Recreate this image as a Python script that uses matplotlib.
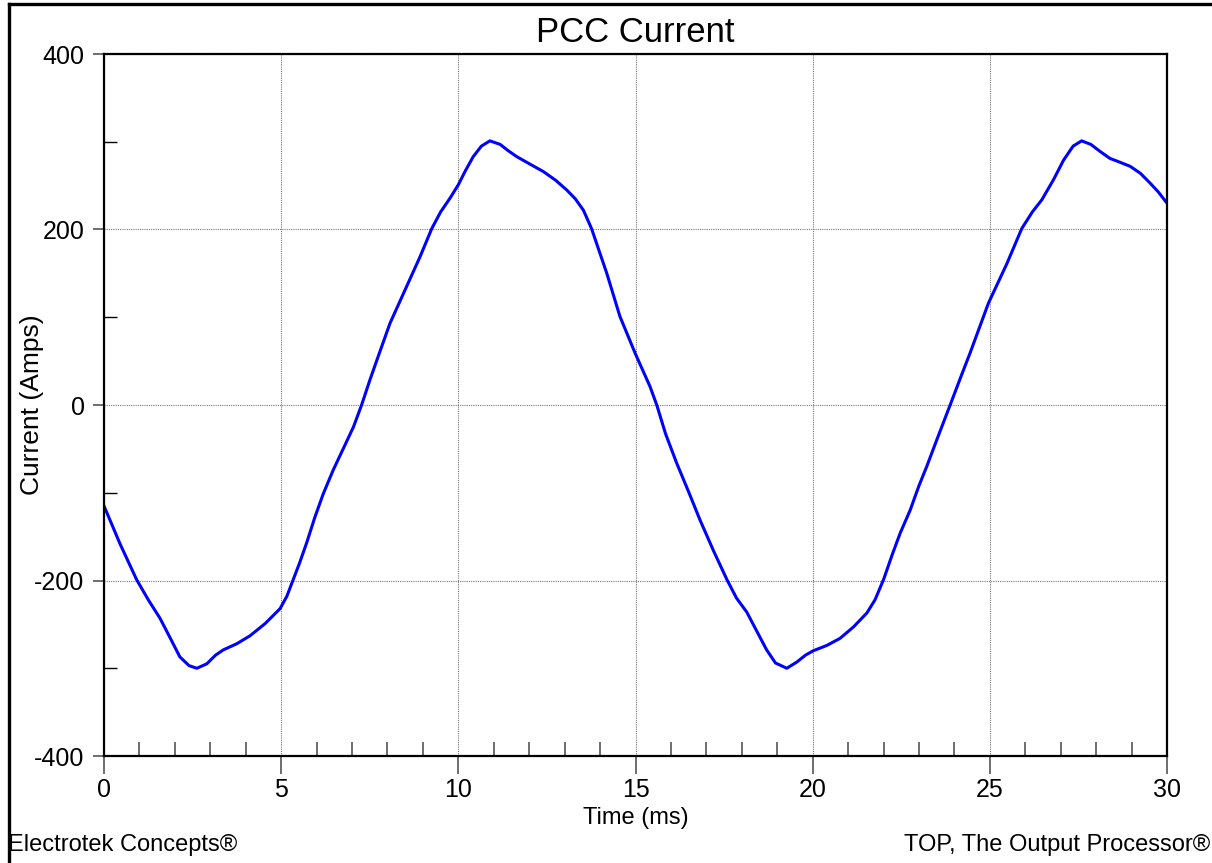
import matplotlib
matplotlib.use("Agg")
import matplotlib.pyplot as plt
from matplotlib.lines import Line2D

# PCC current waveform
time_ms = [0.0, 0.45, 0.92, 1.25, 1.58, 1.9, 2.14, 2.4, 2.62, 2.9, 3.15, 3.37,
           3.75, 4.12, 4.55, 4.97, 5.16, 5.34, 5.52, 5.72, 5.95, 6.19, 6.47,
           6.75, 7.04, 7.27, 7.5, 7.7, 8.07, 8.54, 8.92, 9.25, 9.5, 9.77, 10.0,
           10.2, 10.42, 10.65, 10.89, 11.18, 11.4, 11.65, 12.0, 12.4, 12.75,
           13.06, 13.3, 13.53, 13.76, 14.19, 14.56, 14.99, 15.2, 15.41, 15.6,
           15.85, 16.16, 16.5, 16.82, 17.2, 17.58, 17.85, 18.14, 18.4, 18.7,
           18.95, 19.27, 19.55, 19.8, 20.02, 20.4, 20.77, 21.15, 21.53, 21.76,
           22.0, 22.25, 22.47, 22.75, 23.0, 23.22, 23.5, 23.88, 24.2, 24.44,
           24.96, 25.48, 25.9, 26.2, 26.47, 26.8, 27.08, 27.35, 27.59, 27.85,
           28.11, 28.39, 28.65, 28.96, 29.25, 29.52, 29.75, 30.0]
current_a = [-115, -158, -199, -222, -243, -268, -287, -297, -300, -295, -285, -279,
             -272, -263, -249, -232, -218, -199, -180, -157, -128, -101, -74,
             -50, -25, 0, 28, 51, 93, 135, 169, 201, 220, 236, 251,
             267, 283, 295, 301, 297, 290, 283, 275, 266, 256,
             245, 235, 222, 201, 150, 101, 59, 40, 21, 0,
             -33, -66, -99, -131, -166, -199, -220, -236, -256, -279,
             -294, -300, -293, -285, -280, -274, -266, -253, -237, -222,
             -199, -170, -146, -120, -92, -70, -40, 0, 34, 59,
             116, 161, 201, 220, 234, 257, 279, 295, 301, 297,
             289, 281, 277, 272, 264, 253, 243, 230]

x_major = [0, 5, 10, 15, 20, 25, 30]
y_major = [-400, -200, 0, 200, 400]

plt.rcParams['font.family'] = ['Liberation Sans', 'DejaVu Sans']
plt.rcParams['axes.unicode_minus'] = False

fig = plt.figure(figsize=(12.12, 8.63), dpi=100)
ax = fig.add_axes([104 / 1212, 1 - 756 / 863, 1063 / 1212, 702 / 863])

ax.plot(time_ms, current_a, color='#0000ff', linewidth=2.2, solid_joinstyle='round')

ax.set_xlim(0, 30)
ax.set_ylim(-400, 400)
ax.set_xticks(x_major)
ax.set_yticks(y_major)
ax.set_xticks(range(1, 30), minor=True)
ax.set_yticks([-300, -100, 100, 300], minor=True)

ax.grid(True, which='major', color='#777777', linestyle=(0, (1, 1)), linewidth=0.8)

ax.tick_params(axis='x', which='major', direction='out', length=13, width=1.2,
               color='#555555', labelsize=18, pad=3)
ax.tick_params(axis='y', which='major', direction='out', length=8, width=1.2,
               color='#555555', labelsize=18, pad=6)
ax.tick_params(axis='x', which='minor', direction='in', length=10, width=1.2,
               color='#555555')
ax.tick_params(axis='y', which='minor', direction='in', length=9, width=1.0,
               color='black')

for sp in ax.spines.values():
    sp.set_linewidth(1.6)
    sp.set_color('black')

ax.set_title("PCC Current", fontsize=25, pad=9)
ax.set_xlabel("Time (ms)", fontsize=17)
ax.xaxis.set_label_coords(0.5, -0.072)
ax.set_ylabel("Current (Amps)", fontsize=19)
ax.yaxis.set_label_coords(-0.056, 0.5)

fig.text(8 / 1212, 0.008, "Electrotek Concepts®", fontsize=17, ha='left', va='bottom')
fig.text(1210 / 1212, 0.008, "TOP, The Output Processor®", fontsize=17, ha='right', va='bottom')

# outer frame (left and top edges only are visible)
fig.add_artist(Line2D([9 / 1212, 9 / 1212], [0, 1 - 4 / 863], color='black', linewidth=2.4))
fig.add_artist(Line2D([9 / 1212, 1], [1 - 4 / 863, 1 - 4 / 863], color='black', linewidth=2.4))

fig.savefig("out.png", dpi=100)
